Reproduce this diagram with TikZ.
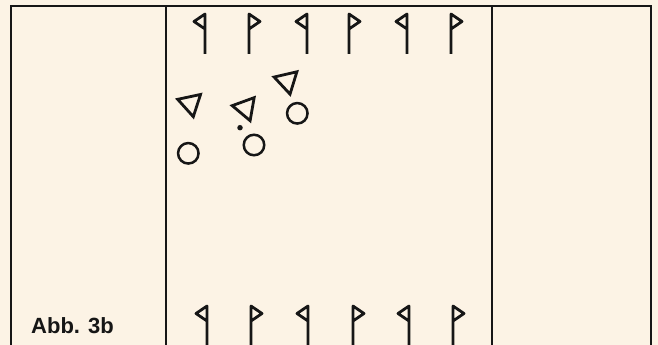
\documentclass[tikz,border=0pt]{standalone}
\usepackage{fontspec}
\setsansfont{Liberation Sans}
\usetikzlibrary{shapes.geometric}
\definecolor{papier}{HTML}{FCF3E5}
\definecolor{tinte}{HTML}{161616}

\begin{document}
\begin{tikzpicture}[
x=1pt, y=-1pt,
feld/.style={draw=tinte, line width=2.6pt},
fahne/.style={draw=tinte, line width=2.8pt, line join=round},
dreieck/.style={regular polygon, regular polygon sides=3, draw=tinte, line width=2.8pt, inner sep=0pt, minimum size=27pt},
kreis/.style={circle, draw=tinte, line width=2.5pt, inner sep=0pt, minimum size=20.5pt}
]
\useasboundingbox (0,0) rectangle (658,345);
\fill[papier] (0,0) rectangle (658,345);

% Spielfeld
\draw[feld] (11,347) -- (11,6) -- (651,6) -- (651,347);
\draw[feld] (166,6) -- (166,347);
\draw[feld] (492,6) -- (492,347);

% Fahnen oben und unten
\foreach \x/\r in {205/-1, 249/1, 307/-1, 349/1, 407/-1, 451/1}
    \draw[fahne] (\x,54) -- (\x,14) -- ++(\r*11,7.5) -- (\x,29);
\foreach \x/\r in {207/-1, 251/1, 308/-1, 353/1, 409/-1, 453/1}
    \draw[fahne] (\x,347) -- (\x,306) -- ++(\r*11,7.5) -- (\x,321);

% Spieler
\node[dreieck, rotate=-168] (d1) at (190.5,103.5) {};
\node[dreieck, rotate=-160] (d2) at (245.5,108) {};
\node[dreieck, rotate=-167] (d3) at (287,81) {};
\node[kreis] (k1) at (188.3,153.3) {};
\node[kreis] (k2) at (254,145) {};
\node[kreis] (k3) at (297.3,113.3) {};
\node[circle, fill=tinte, inner sep=0pt, minimum size=5.5pt] (ball) at (240,127.7) {};

\node[anchor=base west, inner sep=0pt, text=tinte, font=\sffamily\bfseries\fontsize{22}{22}\selectfont] (abb) at (31,333) {Abb. 3b};

\end{tikzpicture}
\end{document}
